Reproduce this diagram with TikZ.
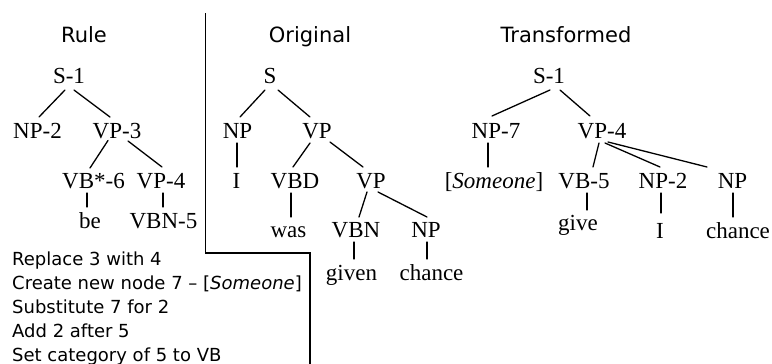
\documentclass[tikz,border=0pt]{standalone}
\usepackage{fontspec}
\setmainfont{Liberation Serif}
\newfontfamily\headfont{DejaVu Sans}
\begin{document}
\begin{tikzpicture}[x=1pt,y=1pt,
  cat/.style={anchor=base,inner sep=0pt,font=\fontsize{23}{27}\selectfont},
  heading/.style={anchor=base,inner sep=0pt,font=\headfont\fontsize{21}{25}\selectfont},
  stepline/.style={anchor=base west,inner sep=0pt,font=\headfont\fontsize{18}{22}\selectfont},
  branchline/.style={line width=1.3pt,line cap=round},
  divider/.style={line width=1.6pt}]
\newcommand\branch[4]{\draw[branchline] ([shift={(#2)}]#1.base) -- ([shift={(#4)}]#3.base);}
\useasboundingbox (0,0) rectangle (772,-364);

% column headings
\node[heading] (hrule) at (84,-42) {Rule};
\node[heading] (horig) at (310,-42) {Original};
\node[heading] (htrans) at (566,-42) {Transformed};

% separator between the rule and the trees
\coordinate (d1) at (205.5,-13);
\coordinate (d2) at (205.5,-253);
\coordinate (d3) at (310,-253);
\coordinate (d4) at (310,-364);
\draw[divider] (d1) -- (d2) -- (d3) -- (d4);

% rule tree
\node[cat] (r1) at (69,-83) {S-1};
\node[cat] (r2) at (37.5,-138) {NP-2};
\node[cat] (r3) at (117,-138) {VP-3};
\node[cat] (r6) at (93.5,-188) {VB*-6};
\node[cat] (r4) at (161,-188) {VP-4};
\node[cat] (rbe) at (90,-228) {be};
\node[cat] (r5) at (163.5,-228) {VBN-5};
\branch{r1}{-4,-7}{r2}{1.5,21}
\branch{r1}{5,-7}{r3}{-7,21}
\branch{r3}{-9,-2.5}{r6}{-3.5,20}
\branch{r3}{11,-3}{r4}{1,21}
\branch{r6}{-6.5,-5}{rbe}{-3,21}
\branch{r4}{2,-5}{r5}{-0.5,21}

% rule steps
\node[stepline] (s1) at (12,-265) {Replace 3 with 4};
\node[stepline] (s2) at (12,-289) {Create new node 7 – [\textit{Someone}]};
\node[stepline] (s3) at (12,-313) {Substitute 7 for 2};
\node[stepline] (s4) at (12,-337) {Add 2 after 5};
\node[stepline] (s5) at (12,-361) {Set category of 5 to VB};

% original tree
\node[cat] (o1) at (270,-83) {S};
\node[cat] (o2) at (237.5,-138) {NP};
\node[cat] (o3) at (317,-138) {VP};
\node[cat] (oi) at (236.5,-188) {I};
\node[cat] (ovbd) at (295,-188) {VBD};
\node[cat] (ovp) at (371,-188) {VP};
\node[cat] (owas) at (288.5,-237) {was};
\node[cat] (ovbn) at (356,-237) {VBN};
\node[cat] (onp) at (426,-237) {NP};
\node[cat] (ogiven) at (351.5,-280) {given};
\node[cat] (ochance) at (431.5,-280) {chance};
\branch{o1}{-5,-7}{o2}{2.5,21}
\branch{o1}{8,-7}{o3}{-7,21}
\branch{o2}{-0.5,-5}{oi}{0.5,21}
\branch{o3}{-7,-5}{ovbd}{-2,21}
\branch{o3}{13,-4}{ovp}{-8,21}
\branch{ovbd}{-4,-5}{owas}{2.5,20}
\branch{ovp}{-4,-4}{ovbn}{3,20}
\branch{ovp}{7,-4}{onp}{1,20}
\branch{ovbn}{-2,-5}{ogiven}{2.5,21}
\branch{onp}{1,-5}{ochance}{-4.5,21}

% transformed tree
\node[cat] (t1) at (549,-83) {S-1};
\node[cat] (t7) at (496,-138) {NP-7};
\node[cat] (t4) at (602,-138) {VP-4};
\node[cat] (tsome) at (494,-188) {[\textit{Someone}]};
\node[cat] (t5) at (584,-188) {VB-5};
\node[cat] (t2) at (663,-188) {NP-2};
\node[cat] (tnp) at (732.5,-188) {NP};
\node[cat] (tgive) at (578,-230) {give};
\node[cat] (ti) at (660,-238) {I};
\node[cat] (tchance) at (738,-238) {chance};
\branch{t1}{1,-7}{t7}{-4,22}
\branch{t1}{11,-7}{t4}{-12,22}
\branch{t7}{-8,-5}{tsome}{-6,21}
\branch{t4}{-3,-5}{t5}{9,21}
\branch{t4}{3,-5}{t2}{-3,21}
\branch{t4}{6,-4}{tnp}{-25.5,21}
\branch{t5}{3,-5}{tgive}{9,20}
\branch{t2}{-2,-5}{ti}{1,25}
\branch{tnp}{0.5,-5}{tchance}{-5,21}
\end{tikzpicture}
\end{document}
